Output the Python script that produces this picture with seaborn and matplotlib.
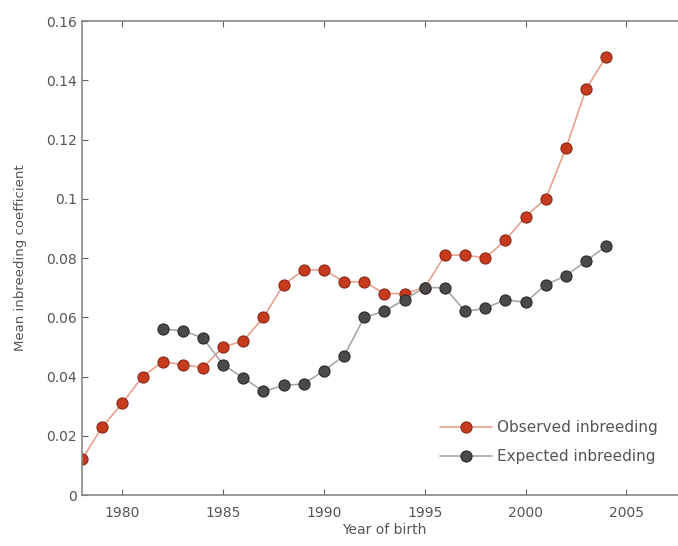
import pandas as pd
import seaborn as sns
import matplotlib
matplotlib.use("Agg")
import matplotlib.pyplot as plt

# anni e valori
anni_oss = list(range(1978, 2005))
osservato = [0.012, 0.023, 0.031, 0.040, 0.045, 0.044, 0.043, 0.050, 0.052,
             0.060, 0.071, 0.076, 0.076, 0.072, 0.072, 0.068, 0.068, 0.070,
             0.081, 0.081, 0.080, 0.086, 0.094, 0.100, 0.117, 0.137, 0.148]

anni_att = list(range(1982, 2005))
atteso = [0.056, 0.0555, 0.053, 0.044, 0.0395, 0.035, 0.037, 0.0375, 0.042,
          0.047, 0.060, 0.062, 0.066, 0.070, 0.070, 0.062, 0.063, 0.066,
          0.065, 0.071, 0.074, 0.079, 0.084]

xticks = [1980, 1985, 1990, 1995, 2000, 2005]
yticks = [0, 0.02, 0.04, 0.06, 0.08, 0.1, 0.12, 0.14, 0.16]
ytick_labels = ["0", "0.02", "0.04", "0.06", "0.08", "0.1", "0.12", "0.14", "0.16"]

dataOss = pd.DataFrame({"anno": anni_oss, "F": osservato})
dataAtt = pd.DataFrame({"anno": anni_att, "F": atteso})

sns.set_style("white")
plt.rcParams["font.family"] = ["DejaVu Sans"]

grigio = "#606060"
fig = plt.figure(figsize=(6.78, 5.46), dpi=100)
ax = fig.add_axes([0.121, 0.0934, 0.892, 0.868])

sns.lineplot(data=dataOss, x="anno", y="F", ax=ax, color="#e8a090", linewidth=1.2,
             marker="o", markersize=8, markerfacecolor="#c83a1e",
             markeredgecolor="#8a2a18", markeredgewidth=0.8,
             label="Observed inbreeding")
sns.lineplot(data=dataAtt, x="anno", y="F", ax=ax, color="#a8a8a8", linewidth=1.2,
             marker="o", markersize=8, markerfacecolor="#4a4a4a",
             markeredgecolor="#2a2a2a", markeredgewidth=0.8,
             label="Expected inbreeding")

ax.set_xlim(1978, 2008)
ax.set_ylim(0, 0.16)
ax.set_xticks(xticks)
ax.set_yticks(yticks)
ax.set_yticklabels(ytick_labels)
ax.tick_params(direction="in", length=4, color=grigio, labelcolor="#555555",
               labelsize=10, top=True, bottom=True, left=True, right=False)
ax.tick_params(axis="x", pad=8)
for s in ax.spines.values():
    s.set_color("#888888")
    s.set_linewidth(1.2)
ax.spines["right"].set_visible(False)

ax.set_xlabel("Year of birth", color="#555555", fontsize=10, labelpad=2)
ax.set_ylabel("Mean inbreeding coefficient", color="#555555", fontsize=9.5, labelpad=14)

leg = ax.legend(loc="lower right", bbox_to_anchor=(0.99, 0.125),
                bbox_transform=fig.transFigure, frameon=False, fontsize=11,
                handlelength=3.4, labelspacing=0.9, handletextpad=0.3)
for t in leg.get_texts():
    t.set_color("#555555")

fig.savefig("out.png", dpi=100)
